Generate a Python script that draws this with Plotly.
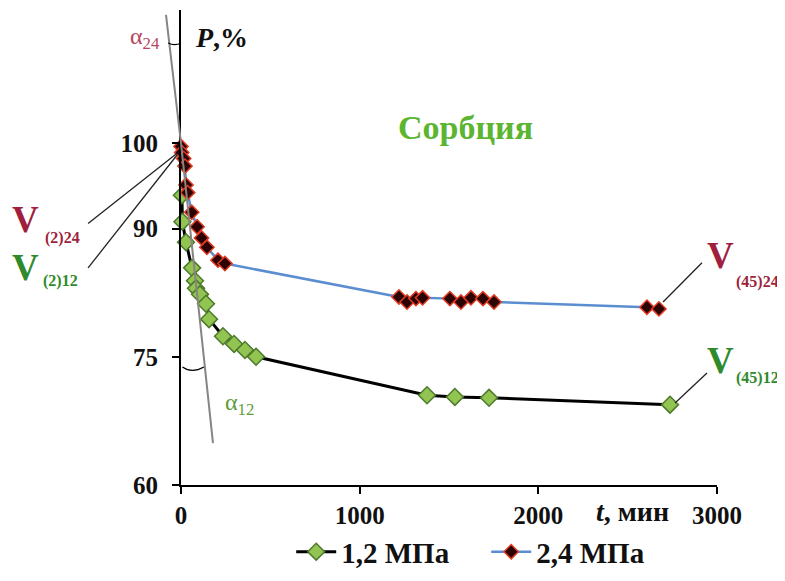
import plotly.graph_objects as go

# ---- data ----
t_12 = [5, 8, 28, 62, 78, 84, 106, 140, 157, 235, 297, 358, 420, 1377, 1533, 1724, 2737]
p_12 = [93.9, 90.8, 88.4, 85.4, 83.9, 83.0, 82.3, 81.2, 79.4, 77.4, 76.5, 75.8, 75.0, 70.5, 70.3, 70.2, 69.4]

t_24 = [0, 4, 15, 22, 28, 37, 60, 90, 115, 145, 207, 246,
        1220, 1265, 1315, 1352, 1505, 1567, 1623, 1690, 1752, 2608, 2675]
p_24 = [99.6, 98.9, 98.2, 97.3, 95.1, 94.2, 91.9, 90.2, 88.9, 87.8, 86.3, 85.9,
        82.0, 81.4, 81.8, 81.9, 81.8, 81.4, 81.9, 81.8, 81.4, 80.8, 80.6]

series_names = ["1,2 МПа", "2,4 МПа"]
x_ticks = [0, 1000, 2000, 3000]
y_ticks = [60, 75, 90, 100]

X_RANGE = [0, 3000]
Y_RANGE = [60, 115.56]


def fx(t):
    return (t - X_RANGE[0]) / (X_RANGE[1] - X_RANGE[0])


def fy(p):
    return (p - Y_RANGE[0]) / (Y_RANGE[1] - Y_RANGE[0])


FONT = "Liberation Serif"
C24 = "#a01f3e"
C24L = "#b5475f"
C12 = "#2f8a2c"
C12L = "#5c9e3c"
GRAY = "#8a8480"

fig = go.Figure()
fig.add_trace(go.Scatter(
    x=t_12, y=p_12, name=series_names[0], mode="lines+markers",
    line=dict(color="black", width=3),
    marker=dict(symbol="diamond", size=13, color="#92c451",
                line=dict(color="#4d7a2c", width=1.5)),
    cliponaxis=False))
fig.add_trace(go.Scatter(
    x=t_24, y=p_24, name=series_names[1], mode="lines+markers",
    line=dict(color="#5b8ed0", width=2.5),
    marker=dict(symbol="diamond", size=11, color="#2b0303",
                line=dict(color="#e03a22", width=1.5)),
    cliponaxis=False))

shapes = []
# tangent line through (0, 100)
shapes.append(dict(type="path", xref="paper", yref="paper",
                   path=f"M {fx(-84)},{fy(115.0)} L {fx(0)},{fy(100)} L {fx(179)},{fy(64.9)}",
                   line=dict(color=GRAY, width=2)))
# angle arcs
shapes.append(dict(type="path", xref="paper", yref="paper",
                   path=f"M {fx(-72)},{fy(111.7)} Q {fx(-36)},{fy(111.3)} {fx(0)},{fy(111.7)}",
                   line=dict(color="black", width=1.2)))
shapes.append(dict(type="path", xref="paper", yref="paper",
                   path=f"M {fx(8)},{fy(73.8)} Q {fx(62)},{fy(73.0)} {fx(128)},{fy(73.8)}",
                   line=dict(color="black", width=1.2)))
# leader lines
for (a, b, c, d) in [(-520, 90.6, -22, 98.8), (-520, 85.4, -22, 98.6),
                     (2698, 81.4, 2916, 86.0), (2765, 69.6, 2944, 73.1)]:
    shapes.append(dict(type="line", xref="paper", yref="paper",
                       x0=fx(a), y0=fy(b), x1=fx(c), y1=fy(d),
                       line=dict(color="#222222", width=1.3)))


def ann(t, p, text, size, color, bold=True, xanchor="center"):
    return dict(x=fx(t), y=fy(p), xref="paper", yref="paper", text=text, showarrow=False,
                xanchor=xanchor, yanchor="middle",
                font=dict(family=FONT, size=size, color=color,
                          weight="bold" if bold else "normal"))


annotations = [
    ann(-201, 112.3, "α<sub>24</sub>", 24, C24L, bold=False),
    ann(229, 112.3, "<i>P</i>,%", 28, "#111111"),
    ann(1590, 101.8, "Сорбция", 34, "#5cb531"),
    ann(-873, 91.1, "V", 37, C24),
    ann(-666, 88.9, "(2)24", 16, C24),
    ann(-873, 85.4, "V", 37, C12),
    ann(-672, 83.9, "(2)12", 16, C12),
    ann(3017, 86.8, "V", 37, C24),
    ann(3224, 83.7, "(45)24", 16, C24),
    ann(3022, 74.6, "V", 37, C12),
    ann(3229, 72.5, "(45)12", 16, C12),
    ann(330, 69.5, "α<sub>12</sub>", 24, C12L, bold=False),
    ann(2525, 56.9, "<i>t</i>, мин", 28, "#111111"),
]

axis_common = dict(showline=True, linecolor="black", linewidth=2.2, ticks="outside",
                   ticklen=7, tickwidth=2, tickcolor="black", showgrid=False, zeroline=False,
                   automargin=False,
                   tickfont=dict(family=FONT, size=25, color="#111111", weight="bold"))

fig.update_layout(
    width=785, height=581, autosize=False,
    margin=dict(l=173, r=76, t=2, b=104),
    paper_bgcolor="white", plot_bgcolor="white",
    xaxis=dict(range=X_RANGE, tickvals=x_ticks, ticktext=[str(v) for v in x_ticks],
               ticklabelstandoff=0, **axis_common),
    yaxis=dict(range=Y_RANGE, tickvals=y_ticks, ticktext=[str(v) for v in y_ticks],
               ticklabelstandoff=9, **axis_common),
    legend=dict(orientation="h", x=0.2056, xanchor="left", y=-0.087, yanchor="top",
                font=dict(family=FONT, size=29, color="#111111", weight="bold"),
                itemwidth=40, entrywidth=140, entrywidthmode="pixels",
                bgcolor="rgba(0,0,0,0)"),
    shapes=shapes,
    annotations=annotations,
)

fig.write_html("out.html")
